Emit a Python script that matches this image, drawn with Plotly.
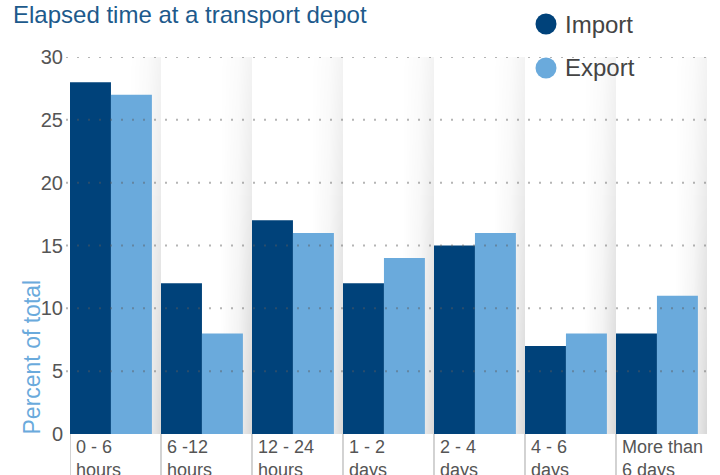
import plotly.graph_objects as go

categories = ["0 - 6<br>hours", "6 -12<br>hours", "12 - 24<br>hours", "1 - 2<br>days",
              "2 - 4<br>days", "4 - 6<br>days", "More than<br>6 days"]
import_vals = [28, 12, 17, 12, 15, 7, 8]
export_vals = [27, 8, 16, 14, 16, 8, 11]
y_ticks = [0, 5, 10, 15, 20, 25, 30]

IMPORT_C = "#00427a"
EXPORT_C = "#6aaadc"
FONT = "Liberation Sans"

W, H = 720, 475
L, R, T, B = 70, 13, 57, 41
PW, PH = W - L - R, H - T - B

def px_x(px):
    return (px - L) / PW

def px_y(py):
    return 1 + (T - py) / PH

xs = list(range(len(categories)))

# background shading: per band, white fading to gray at the right edge, darker near the bottom
bg_x, bg_prof = [], []
for i in xs:
    bg_x += [i - 0.45, i + 0.2, i + 0.4, i + 0.548]
    bg_prof += [0.0, 0.0, 0.35, 1.0]
bg_y = [0, 10, 20, 30]
bg_rowf = [1.0, 0.75, 0.5, 0.3]
bg_z = [[p * f for p in bg_prof] for f in bg_rowf]

fig = go.Figure()
fig.add_trace(go.Heatmap(x=bg_x, y=bg_y, z=bg_z, zmin=0, zmax=1, zsmooth="best",
                         colorscale=[[0, "#ffffff"], [1, "#d6d6d6"]], showscale=False,
                         hoverinfo="skip"))
fig.add_trace(go.Bar(x=xs, y=import_vals, name="Import", marker=dict(color=IMPORT_C, line=dict(width=0))))
fig.add_trace(go.Bar(x=xs, y=export_vals, name="Export", marker=dict(color=EXPORT_C, line=dict(width=0))))

shapes = []
annotations = []

for i in xs:
    start = i - 0.45
    shapes.append(dict(type="line", xref="x", yref="paper", x0=start, x1=start,
                       y0=0, y1=-0.12, line=dict(color="#b5b5b5", width=1.2)))
    annotations.append(dict(x=start, y=0, xref="x", yref="paper", xanchor="left", yanchor="top",
                            xshift=4, yshift=-1, text=categories[i], showarrow=False, align="left",
                            font=dict(family=FONT, size=18, color="#555555")))

# dotted gridlines above bars
for t in y_ticks[1:]:
    shapes.append(dict(type="line", xref="paper", yref="y", x0=px_x(66), x1=1, y0=t, y1=t,
                       line=dict(color="rgba(90,90,90,0.45)", width=2, dash="2px,9px"), layer="above"))

# legend
for lab, col, cy in [("Import", IMPORT_C, 24), ("Export", EXPORT_C, 68)]:
    shapes.append(dict(type="circle", xref="paper", yref="paper", xsizemode="pixel", ysizemode="pixel",
                       xanchor=px_x(546), yanchor=px_y(cy), x0=-10.5, x1=10.5, y0=-10.5, y1=10.5,
                       fillcolor=col, line=dict(width=0)))
    annotations.append(dict(x=px_x(563), y=px_y(cy), xref="paper", yref="paper", xanchor="left",
                            yanchor="middle", text=lab, showarrow=False,
                            font=dict(family=FONT, size=24, color="#444444")))

# title
annotations.append(dict(x=px_x(11), y=px_y(15), xref="paper", yref="paper", xanchor="left",
                        yanchor="middle", text="Elapsed time at a transport depot", showarrow=False,
                        font=dict(family=FONT, size=24, color="#1d5a8c")))
# y axis title
annotations.append(dict(x=px_x(31), y=px_y(437), xref="paper", yref="paper", xanchor="center",
                        yanchor="bottom", text="Percent of total", showarrow=False, textangle=-90,
                        font=dict(family=FONT, size=23, color=EXPORT_C)))

fig.update_layout(
    width=W, height=H,
    margin=dict(l=L, r=R, t=T, b=B),
    paper_bgcolor="white", plot_bgcolor="white",
    barmode="group", bargap=0.1, bargroupgap=0,
    showlegend=False,
    xaxis=dict(range=[-0.45, 6.55], showticklabels=False, showgrid=False, zeroline=False,
               showline=False, ticks=""),
    yaxis=dict(range=[0, 30], tickvals=y_ticks, showgrid=False, zeroline=False, showline=False,
               ticks="", ticklabelstandoff=6,
               tickfont=dict(family=FONT, size=20, color="#555555")),
    shapes=shapes, annotations=annotations,
)

fig.write_html("out.html")
